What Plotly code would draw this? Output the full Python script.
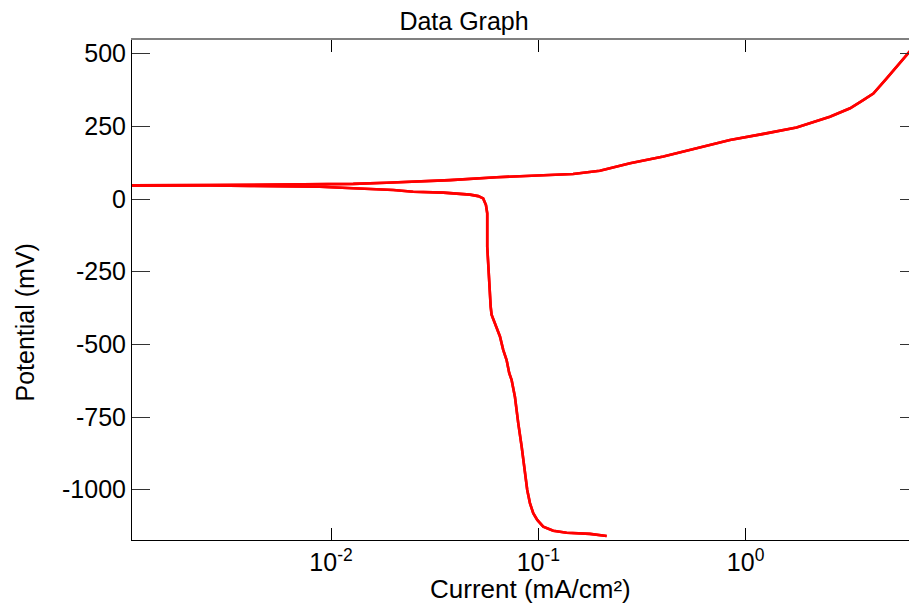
import plotly.graph_objects as go

# Sweep order: cathodic branch (bottom) up to Ecorr, then anodic branch
current_ma_cm2 = [
    0.2136, 0.1774, 0.1369, 0.1180, 0.1056, 0.0988, 0.0945, 0.0911, 0.0884, 0.0862,
    0.0831, 0.0800, 0.0771, 0.0743, 0.0724, 0.0703, 0.0677, 0.0653, 0.0629, 0.0606,
    0.0595, 0.0589, 0.0580, 0.0567, 0.0567, 0.0559, 0.0542, 0.0513, 0.0468, 0.0418,
    0.0348, 0.0249, 0.0200, 0.0128, 0.00883, 0.00406, 0.0026, 0.0010,
    0.0010, 0.0026, 0.0040, 0.0088, 0.0128, 0.0185, 0.0375, 0.063, 0.0912, 0.147,
    0.198, 0.230, 0.277, 0.401, 0.581, 0.84, 1.22, 1.76, 2.55, 3.19,
    3.69, 4.13, 4.79, 5.35, 5.98, 6.4,
]
potential_mv = [
    -1159, -1152, -1148, -1141, -1127, -1104, -1081, -1046, -1001, -932,
    -852, -771, -680, -622, -599, -554, -519, -473, -445, -416,
    -398, -370, -279, -164, -49, -21, 2, 10, 15, 18,
    22, 25, 31, 37, 42, 45, 47, 46,
    47, 48, 49, 51, 52, 56, 65, 75, 79, 86,
    97, 109, 123, 146, 174, 203, 224, 246, 283, 312,
    340, 363, 415, 455, 495, 520,
]

x_tickvals = [0.01, 0.1, 1]
x_ticktext = ["10<sup>-2</sup>", "10<sup>-1</sup>", "10<sup>0</sup>"]
y_tickvals = [500, 250, 0, -250, -500, -750, -1000]
y_ticktext = ["500", "250", "0", "-250", "-500", "-750", "-1000"]

x_range = [-2.96, 0.788]
y_range = [-1173, 547]

FONT = "Liberation Sans, Arial, sans-serif"
LINE = dict(color="#ff0000", width=2.6)

fig = go.Figure()
fig.add_trace(go.Scatter(
    x=current_ma_cm2, y=potential_mv, mode="lines", line=LINE,
    showlegend=False, xaxis="x", yaxis="y",
))
# same data on the mirrored (top/right) axes so they are drawn
fig.add_trace(go.Scatter(
    x=current_ma_cm2, y=potential_mv, mode="lines", line=LINE,
    showlegend=False, xaxis="x2", yaxis="y2", hoverinfo="skip",
))

fig.update_layout(
    width=909, height=607,
    margin=dict(l=132, r=0, t=40, b=67),
    paper_bgcolor="white", plot_bgcolor="white",
    font=dict(family=FONT, size=25, color="black"),
    showlegend=False,
    title=dict(text="Data Graph", font=dict(family=FONT, size=25, color="black"),
               xref="container", x=464 / 909, xanchor="center",
               yref="container", y=1 - 21 / 607, yanchor="middle"),
    xaxis=dict(type="log", range=x_range, tickvals=x_tickvals, ticktext=x_ticktext,
               ticks="inside", ticklen=12, tickcolor="black", tickwidth=1,
               showline=True, linecolor="black", linewidth=1,
               showgrid=False, zeroline=False,
               tickfont=dict(family=FONT, size=25, color="black")),
    yaxis=dict(range=y_range, tickvals=y_tickvals, ticktext=y_ticktext,
               ticks="inside", ticklen=18, tickcolor="#333", tickwidth=1,
               showline=True, linecolor="black", linewidth=1,
               showgrid=False, zeroline=False,
               tickfont=dict(family=FONT, size=25, color="black")),
    xaxis2=dict(type="log", range=x_range, tickvals=x_tickvals, overlaying="x",
                side="top", anchor="y2", ticks="inside", ticklen=12, tickcolor="black",
                showticklabels=False, showline=True, linecolor="#808080", linewidth=1.5,
                showgrid=False, zeroline=False),
    yaxis2=dict(range=y_range, tickvals=y_tickvals, overlaying="y", side="right",
                anchor="x2", ticks="inside", ticklen=9, tickcolor="#333",
                showticklabels=False, showline=False, showgrid=False, zeroline=False),
    annotations=[
        dict(text="Current (mA/cm²)", xref="paper", yref="paper",
             x=(530 - 132) / 777, y=(540 - 589) / 500, xanchor="center", yanchor="middle",
             showarrow=False, font=dict(family=FONT, size=26, color="black")),
        dict(text="Potential (mV)", xref="paper", yref="paper",
             x=(24.5 - 132) / 777, y=(540 - 322) / 500, xanchor="center", yanchor="middle",
             textangle=-90, showarrow=False, font=dict(family=FONT, size=25, color="black")),
    ],
)

fig.write_html("out.html", config={"displayModeBar": False},
               post_script="document.body.style.margin='0';")
